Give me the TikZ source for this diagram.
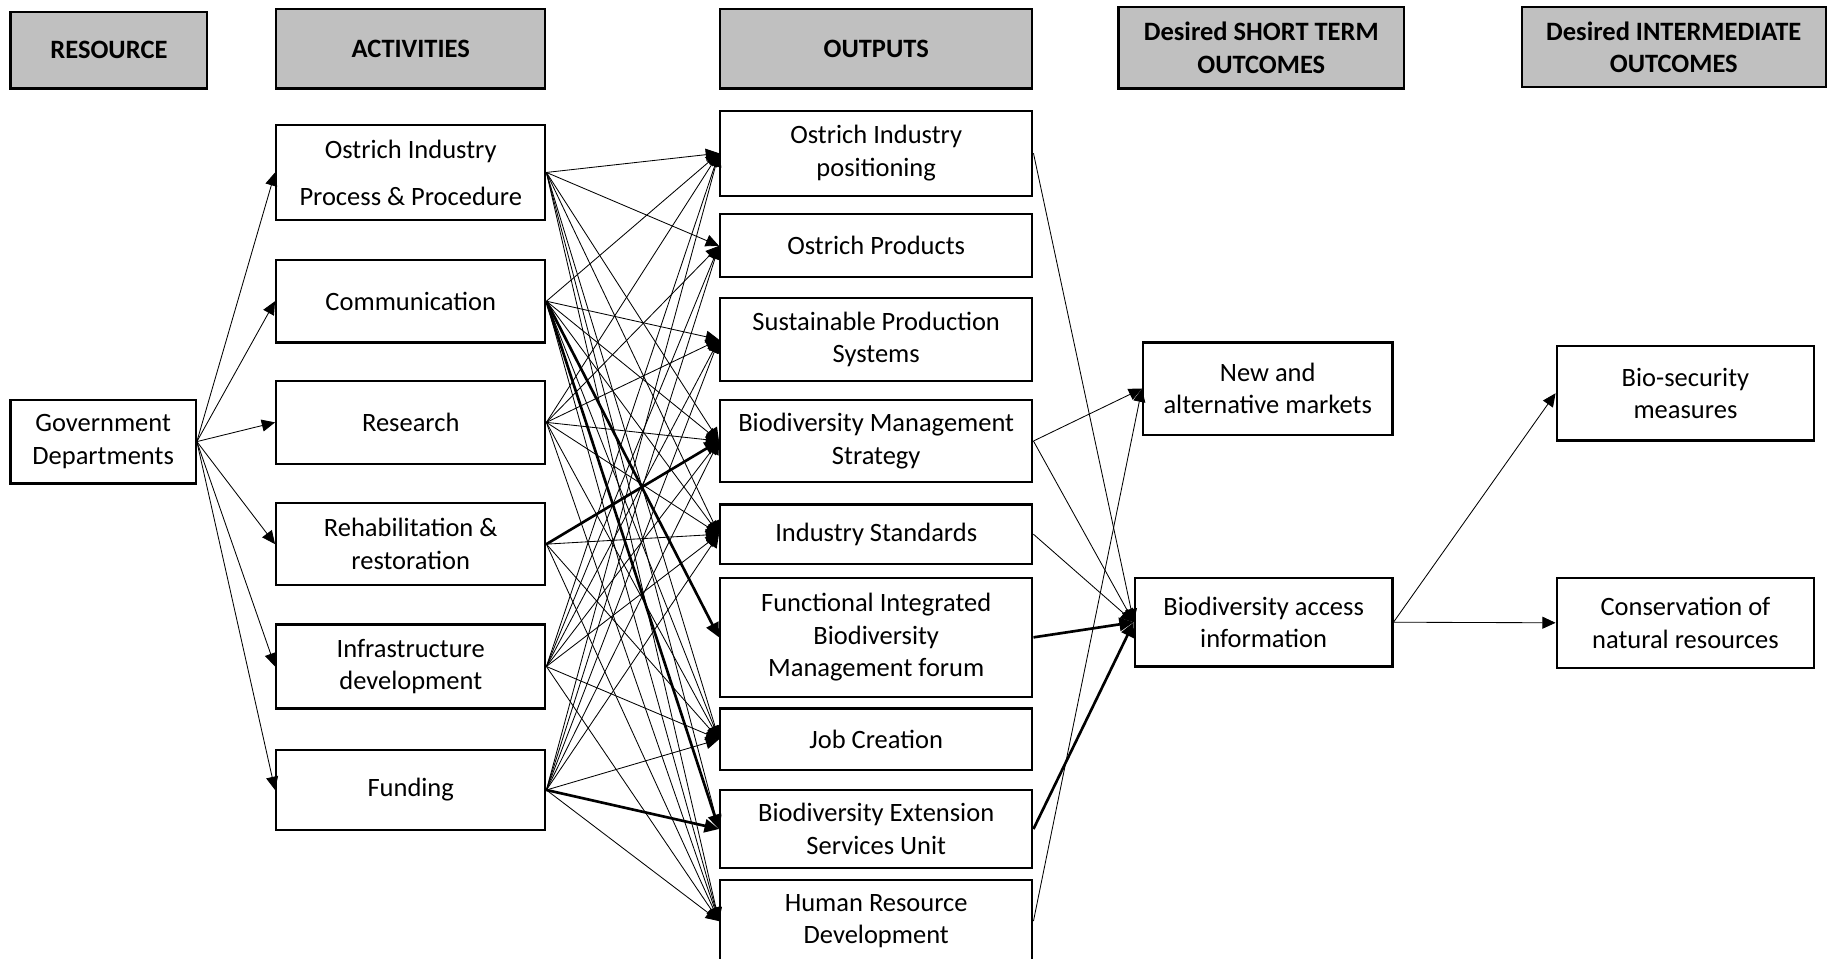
\documentclass[tikz,border=0pt]{standalone}
\usepackage{fontspec}
\setmainfont{Carlito}
\usepackage{xcolor}
\usepackage{tikz}
\usetikzlibrary{arrows.meta}

\definecolor{headgray}{RGB}{192,192,192}

\tikzset{
	box/.style={draw=black, line width=0.9pt, fill=white, align=center, inner sep=2pt,
		font=\fontsize{11}{13.5}\selectfont},
	headbox/.style={box, fill=headgray, font=\fontsize{11}{13.5}\selectfont\bfseries},
	link/.style={draw=black, line width=0.35pt, -{Triangle[length=5.5pt,width=5pt]}},
	biglink/.style={draw=black, line width=1.1pt, -{Triangle[length=6pt,width=5.5pt]}}
}

\begin{document}
\begin{tikzpicture}[x=0.017cm, y=-0.017cm]

	\useasboundingbox (0,0) rectangle (1568,823);

	% column heads
	\node[headbox, minimum width=2.873cm, minimum height=1.122cm] (hres) at (93.5,43) {RESOURCE};
	\node[headbox, minimum width=3.927cm, minimum height=1.156cm] (hact) at (352.5,42) {ACTIVITIES};
	\node[headbox, minimum width=4.556cm, minimum height=1.156cm] (hout) at (752,42) {OUTPUTS};
	\node[headbox, minimum width=4.165cm, minimum height=1.19cm] (hshort) at (1082.5,41) {Desired SHORT TERM\\OUTCOMES};
	\node[headbox, minimum width=4.437cm, minimum height=1.173cm] (hint) at (1436.5,40.5) {Desired INTERMEDIATE\\OUTCOMES};

	% resource
	\node[box, minimum width=2.703cm, minimum height=1.224cm] (gov) at (88.5,379) {Government\\Departments};

	% activities
	\node[box, minimum width=3.927cm, minimum height=1.394cm] (act1) at (352.5,148) {Ostrich Industry\\[6pt]Process \& Procedure};
	\node[box, minimum width=3.927cm, minimum height=1.207cm] (act2) at (352.5,258.5) {Communication};
	\node[box, minimum width=3.927cm, minimum height=1.207cm] (act3) at (352.5,362.5) {Research};
	\node[box, minimum width=3.927cm, minimum height=1.19cm] (act4) at (352.5,467) {Rehabilitation \&\\restoration};
	\node[box, minimum width=3.927cm, minimum height=1.224cm] (act5) at (352.5,572) {Infrastructure\\development};
	\node[box, minimum width=3.927cm, minimum height=1.156cm] (act6) at (352.5,678) {Funding};

	% outputs
	\node[box, minimum width=4.556cm, minimum height=1.241cm] (out1) at (752,131.5) {Ostrich Industry\\positioning};
	\node[box, minimum width=4.556cm, minimum height=0.918cm] (out2) at (752,211) {Ostrich Products};
	\node[box, minimum width=4.556cm, minimum height=1.207cm] (out3) at (752,291.5) {Sustainable Production\\Systems};
	\node[box, minimum width=4.556cm, minimum height=1.207cm] (out4) at (752,378.5) {Biodiversity Management\\Strategy};
	\node[box, minimum width=4.556cm, minimum height=0.867cm] (out5) at (752,458.5) {Industry Standards};
	\node[box, minimum width=4.556cm, minimum height=1.734cm] (out6) at (752,547) {Functional Integrated\\Biodiversity\\Management forum};
	\node[box, minimum width=4.556cm, minimum height=0.901cm] (out7) at (752,634.5) {Job Creation};
	\node[box, minimum width=4.556cm, minimum height=1.139cm] (out8) at (752,711.5) {Biodiversity Extension\\Services Unit};
	\node[box, minimum width=4.556cm, minimum height=1.207cm] (out9) at (752,790.5) {Human Resource\\Development};

	% short term outcomes
	\node[box, minimum width=3.638cm, minimum height=1.343cm] (st1) at (1088,333.5) {New and\\alternative markets};
	\node[box, minimum width=3.757cm, minimum height=1.292cm] (st2) at (1084.5,534) {Biodiversity access\\information};

	% intermediate outcomes
	\node[box, minimum width=3.757cm, minimum height=1.377cm] (im1) at (1446.5,337.5) {Bio-security\\measures};
	\node[box, minimum width=3.757cm, minimum height=1.309cm] (im2) at (1446.5,534.5) {Conservation of\\natural resources};

	% resource to activities
	\draw[link] (gov.east) -- (act1.west);
	\draw[link] (gov.east) -- (act2.west);
	\draw[link] (gov.east) -- (act3.west);
	\draw[link] (gov.east) -- (act4.west);
	\draw[link] (gov.east) -- (act5.west);
	\draw[link] (gov.east) -- (act6.west);

	% activities to outputs
	\draw[link] (act1.east) -- (out1.west);
	\draw[link] (act1.east) -- (out2.west);
	\draw[link] (act1.east) -- (out4.west);
	\draw[link] (act1.east) -- (out5.west);
	\draw[link] (act1.east) -- (out7.west);
	\draw[link] (act1.east) -- (out8.west);
	\draw[link] (act1.east) -- (out9.west);

	\draw[link] (act2.east) -- (out1.west);
	\draw[link] (act2.east) -- (out3.west);
	\draw[link] (act2.east) -- (out4.west);
	\draw[link] (act2.east) -- (out5.west);
	\draw[biglink] (act2.east) -- (out6.west);
	\draw[link] (act2.east) -- (out7.west);
	\draw[biglink] (act2.east) -- (out8.west);
	\draw[link] (act2.east) -- (out9.west);

	\draw[link] (act3.east) -- (out1.west);
	\draw[link] (act3.east) -- (out2.west);
	\draw[link] (act3.east) -- (out3.west);
	\draw[link] (act3.east) -- (out4.west);
	\draw[link] (act3.east) -- (out5.west);
	\draw[link] (act3.east) -- (out7.west);
	\draw[link] (act3.east) -- (out9.west);

	\draw[biglink] (act4.east) -- (out4.west);
	\draw[link] (act4.east) -- (out5.west);
	\draw[link] (act4.east) -- (out7.west);
	\draw[link] (act4.east) -- (out9.west);

	\draw[link] (act5.east) -- (out1.west);
	\draw[link] (act5.east) -- (out2.west);
	\draw[link] (act5.east) -- (out3.west);
	\draw[link] (act5.east) -- (out4.west);
	\draw[link] (act5.east) -- (out5.west);
	\draw[link] (act5.east) -- (out7.west);
	\draw[link] (act5.east) -- (out9.west);

	\draw[link] (act6.east) -- (out1.west);
	\draw[link] (act6.east) -- (out2.west);
	\draw[link] (act6.east) -- (out3.west);
	\draw[link] (act6.east) -- (out4.west);
	\draw[link] (act6.east) -- (out5.west);
	\draw[link] (act6.east) -- (out7.west);
	\draw[biglink] (act6.east) -- (out8.west);
	\draw[link] (act6.east) -- (out9.west);

	% outputs to short term outcomes
	\draw[link] (out1.east) -- (st2.west);
	\draw[link] (out4.east) -- (st1.west);
	\draw[link] (out4.east) -- (st2.west);
	\draw[link] (out5.east) -- (st2.west);
	\draw[biglink] (out6.east) -- (st2.west);
	\draw[biglink] (out8.east) -- (st2.west);
	\draw[link] (out9.east) -- (st1.west);

	% short term to intermediate
	\draw[link] (st2.east) -- (im1.west);
	\draw[link] (st2.east) -- (im2.west);

\end{tikzpicture}
\end{document}
